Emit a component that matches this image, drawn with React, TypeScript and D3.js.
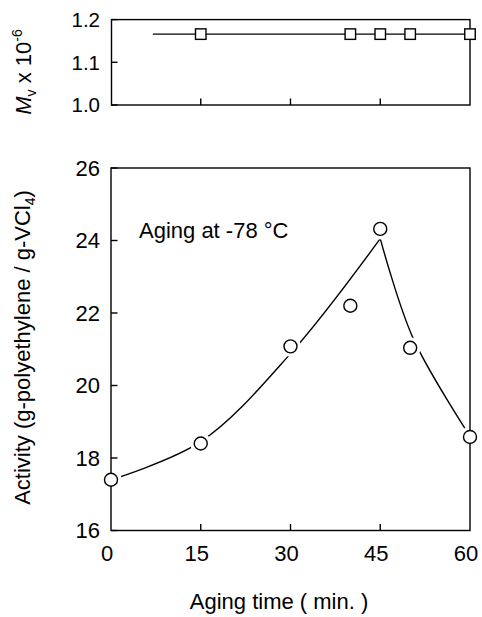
import React from 'react';
import * as d3 from 'd3';

// Bottom panel: activity vs aging time
const agingTime = [0, 15, 30, 40, 45, 50, 60];
const activity = [17.4, 18.4, 21.08, 22.2, 24.32, 21.04, 18.58];
// Fitted (hand-drawn) curve anchors
const riseFitTime = [0, 15, 30, 45];
const riseFitValue = [17.4, 18.45, 20.88, 24.05];
const fallFitTime = [45, 50.5, 60];
const fallFitValue = [24.05, 21.3, 18.6];

// Top panel: Mv vs aging time
const mvTime = [15, 40, 45, 50, 60];
const mvValue = [1.166, 1.166, 1.166, 1.166, 1.166];
const mvLineTime = [7, 60];
const mvLineValue = [1.166, 1.166];

// Ticks
const xTicks = [0, 15, 30, 45, 60];
const activityTicks = [16, 18, 20, 22, 24, 26];
const mvTicks = [1.0, 1.1, 1.2];

const FONT = "'Liberation Sans', Arial, Helvetica, sans-serif";

export default function App() {
  const x = d3.scaleLinear().domain([0, 60]).range([111, 470]);
  const yA = d3.scaleLinear().domain([16, 26]).range([530.5, 168]);
  const yM = d3.scaleLinear().domain([1.0, 1.2]).range([105, 19.6]);

  const curveLine = (ts: number[], vs: number[]) =>
    d3
      .line<number>()
      .x((_, i) => x(ts[i]))
      .y((d) => yA(d))
      .curve(d3.curveCatmullRom.alpha(0.5))(vs) || '';

  const mvLine = d3
    .line<number>()
    .x((_, i) => x(mvLineTime[i]))
    .y((d) => yM(d))(mvLineValue) || '';

  const tick = 6.5;
  const sw = 1.4;
  const sq = 10.5;

  return (
    <svg
      width={482}
      height={617}
      style={{ position: 'absolute', left: 0, top: 0, background: '#fff' }}
      fontFamily={FONT}
    >
      <defs>
        <mask id="gapMask" maskUnits="userSpaceOnUse" x={0} y={0} width={482} height={617}>
          <rect x={0} y={0} width={482} height={617} fill="#fff" />
          {agingTime.map((t, i) => (
            <circle key={i} cx={x(t)} cy={yA(activity[i])} r={10.5} fill="#000" />
          ))}
        </mask>
      </defs>
      <rect x={0} y={0} width={482} height={617} fill="#fff" />

      {/* ---------- Top panel ---------- */}
      <rect
        x={x(0) + 0.5}
        y={yM(1.2)}
        width={x(60) - x(0) - 0.5}
        height={yM(1.0) - yM(1.2)}
        fill="none"
        stroke="#000"
        strokeWidth={sw}
      />
      {mvTicks.map((v) => (
        <g key={v}>
          <line x1={x(0)} x2={x(0) + tick} y1={yM(v)} y2={yM(v)} stroke="#000" strokeWidth={sw} />
          <text x={100} y={yM(v)} dy="0.36em" textAnchor="end" fontSize={20.5}>
            {v.toFixed(1)}
          </text>
        </g>
      ))}
      {xTicks.slice(1, -1).map((t) => (
        <line key={t} x1={x(t)} x2={x(t)} y1={yM(1.0)} y2={yM(1.0) - tick} stroke="#000" strokeWidth={sw} />
      ))}
      <path d={mvLine} fill="none" stroke="#000" strokeWidth={sw} />
      {mvTime.map((t, i) => (
        <rect
          key={i}
          x={x(t) - sq / 2}
          y={yM(mvValue[i]) - sq / 2}
          width={sq}
          height={sq}
          fill="#fff"
          stroke="#000"
          strokeWidth={sw}
        />
      ))}
      <text transform="translate(31,72) rotate(-90)" textAnchor="middle" fontSize={22}>
        <tspan fontStyle="italic">M</tspan>
        <tspan fontSize={14} dy={5}>v</tspan>
        <tspan dy={-5}> x 10</tspan>
        <tspan fontSize={14} dy={-9}>-6</tspan>
      </text>

      {/* ---------- Bottom panel ---------- */}
      <rect
        x={x(0)}
        y={yA(26)}
        width={x(60) - x(0)}
        height={yA(16) - yA(26)}
        fill="none"
        stroke="#000"
        strokeWidth={sw}
      />
      {activityTicks.map((v) => (
        <g key={v}>
          <line x1={x(0)} x2={x(0) + tick} y1={yA(v)} y2={yA(v)} stroke="#000" strokeWidth={sw} />
          <text x={100} y={yA(v)} dy="0.36em" textAnchor="end" fontSize={22}>
            {v}
          </text>
        </g>
      ))}
      {xTicks.map((t) => (
        <g key={t}>
          {t > 0 && t < 60 && (
            <line x1={x(t)} x2={x(t)} y1={yA(16)} y2={yA(16) - tick} stroke="#000" strokeWidth={sw} />
          )}
          <text x={x(t) - 4} y={561} textAnchor="middle" fontSize={22}>
            {t}
          </text>
        </g>
      ))}

      <g mask="url(#gapMask)">
        <path d={curveLine(riseFitTime, riseFitValue)} fill="none" stroke="#000" strokeWidth={sw} />
        <path d={curveLine(fallFitTime, fallFitValue)} fill="none" stroke="#000" strokeWidth={sw} />
      </g>

      {agingTime.map((t, i) => (
        <circle
          key={i}
          cx={x(t)}
          cy={yA(activity[i])}
          r={6.5}
          fill="#fff"
          stroke="#000"
          strokeWidth={sw}
        />
      ))}

      <text x={139} y={237.5} fontSize={22}>
        Aging at -78 °C
      </text>

      <text transform="translate(30,347.5) rotate(-90)" textAnchor="middle" fontSize={22}>
        <tspan>Activity (g-polyethylene / g-VCl</tspan>
        <tspan fontSize={14} dy={5}>4</tspan>
        <tspan dy={-5}>)</tspan>
      </text>

      <text x={279} y={609} textAnchor="middle" fontSize={22}>
        Aging time ( min. )
      </text>
    </svg>
  );
}
